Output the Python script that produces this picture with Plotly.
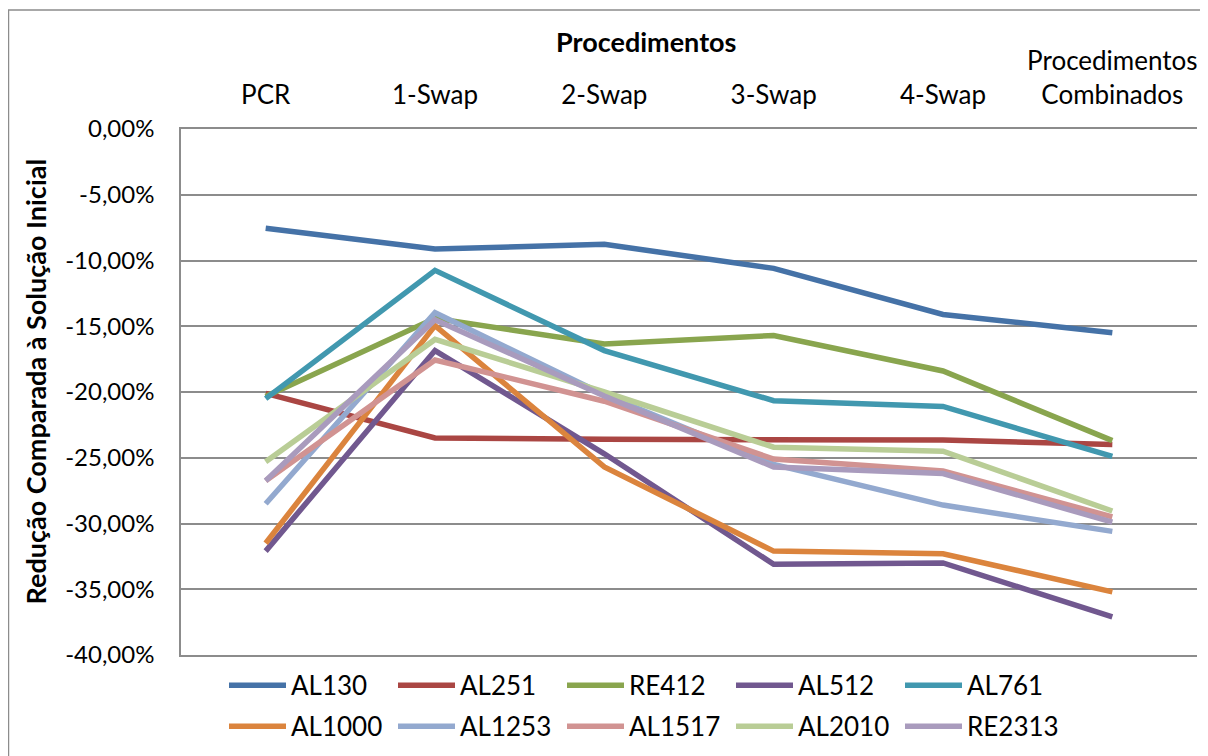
import plotly.graph_objects as go

categories = ["PCR", "1-Swap", "2-Swap", "3-Swap", "4-Swap", "Procedimentos<br>Combinados"]

series_names = ["AL130", "AL251", "RE412", "AL512", "AL761",
                "AL1000", "AL1253", "AL1517", "AL2010", "RE2313"]

AL130 = [-7.55, -9.13, -8.77, -10.6, -14.1, -15.5]
AL251 = [-20.1, -23.5, -23.6, -23.6, -23.65, -24.0]
RE412 = [-20.35, -14.4, -16.35, -15.7, -18.4, -23.7]
AL512 = [-32.1, -16.85, -24.7, -33.1, -33.0, -37.1]
AL761 = [-20.5, -10.75, -16.85, -20.66, -21.1, -24.9]
AL1000 = [-31.5, -14.95, -25.7, -32.1, -32.3, -35.2]
AL1253 = [-28.5, -13.97, -20.2, -25.5, -28.6, -30.6]
AL1517 = [-26.75, -17.57, -20.7, -25.1, -26.0, -29.5]
AL2010 = [-25.3, -16.0, -20.0, -24.2, -24.5, -29.05]
RE2313 = [-26.75, -14.5, -20.3, -25.7, -26.2, -29.9]

series_values = [AL130, AL251, RE412, AL512, AL761, AL1000, AL1253, AL1517, AL2010, RE2313]

colors = ["#4572A7", "#AA4643", "#89A54E", "#71588F", "#4198AF",
          "#DB843D", "#93A9CF", "#D19392", "#B9CD96", "#A99BBD"]

y_tickvals = [0, -5, -10, -15, -20, -25, -30, -35, -40]
y_ticktext = ["0,00%", "-5,00%", "-10,00%", "-15,00%", "-20,00%",
              "-25,00%", "-30,00%", "-35,00%", "-40,00%"]

x_title = "Procedimentos"
y_title = "Redução Comparada à Solução Inicial"

FONT = "Lato, 'Open Sans', sans-serif"

fig = go.Figure()
for i, (name, vals, col) in enumerate(zip(series_names, series_values, colors)):
    fig.add_trace(go.Scatter(
        x=categories, y=vals, name=name, mode="lines",
        line=dict(color=col, width=5.5),
        legend="legend" if i < 5 else "legend2",
    ))

legend_common = dict(
    orientation="h", xref="container", yref="container",
    x=0.18, xanchor="left", yanchor="top",
    entrywidth=97, entrywidthmode="pixels",
    font=dict(size=26), itemwidth=57, tracegroupgap=0,
    bgcolor="rgba(0,0,0,0)",
)

fig.update_layout(
    width=1200, height=748,
    margin=dict(l=173, r=11, t=121, b=101, autoexpand=False),
    paper_bgcolor="white", plot_bgcolor="white",
    font=dict(family=FONT, size=26, color="black"),
    showlegend=True,
    legend=dict(legend_common, y=0.126),
    legend2=dict(legend_common, y=0.071),
    xaxis=dict(
        side="top", type="category", range=[-0.5, 5.5], automargin=False,
        showgrid=False, showline=True, mirror=True, linecolor="#8C8C8C", linewidth=1.5,
        ticks="", tickfont=dict(size=26), ticklabelstandoff=13,
    ),
    yaxis=dict(
        range=[-40, 0], tickvals=y_tickvals, ticktext=y_ticktext, automargin=False,
        showgrid=True, gridcolor="#8C8C8C", gridwidth=1.5,
        showline=True, linecolor="#8C8C8C", linewidth=1.5,
        ticks="", ticklabelstandoff=20,
        zeroline=False, tickfont=dict(size=24),
    ),
    annotations=[
        dict(text="<b>" + x_title + "</b>", xref="paper", yref="paper", x=0.4577, y=1.1654,
             xanchor="center", yanchor="middle", showarrow=False, font=dict(size=27)),
        dict(text="<b>" + y_title + "</b>", xref="paper", yref="paper", x=-0.1437, y=0.52,
             xanchor="center", yanchor="middle", textangle=-90, showarrow=False, font=dict(size=27)),
    ],
    shapes=[dict(type="rect", xref="paper", yref="paper", x0=-0.1698, x1=1.05, y0=-0.3, y1=1.2262,
                 line=dict(color="#8C8C8C", width=1.5), layer="below")],
)

fig.write_html("out.html")
